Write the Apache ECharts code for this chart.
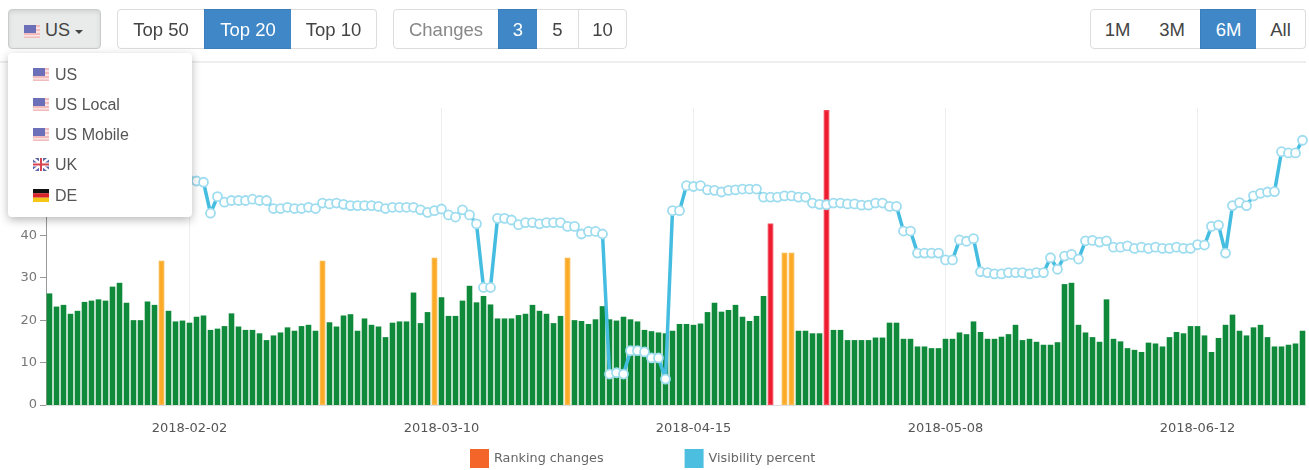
<!DOCTYPE html>
<html>
<head>
<meta charset="utf-8">
<script src="https://cdn.jsdelivr.net/npm/echarts@6/dist/echarts.min.js"></script>
<style>
html,body{margin:0;padding:0;background:#fff;width:1309px;height:470px;overflow:hidden;font-family:"Liberation Sans",Arial,sans-serif}
#page{position:absolute;left:0;top:0;width:1309px;height:470px;filter:blur(0.55px)}
#chart{position:absolute;left:0;top:0;width:1309px;height:470px}
.btn{position:absolute;top:9px;height:40px;line-height:40px;text-align:center;font-size:18.5px;color:#444;background:#fff;border:1px solid #ddd;box-sizing:border-box}
.on{background:#3f87c6;color:#fff;border-color:#3a7fbb}
.rl{border-radius:4px 0 0 4px}.rr{border-radius:0 4px 4px 0}
.lab{color:#888}
#us{left:8px;width:93px;background:#e9ebea;border:1px solid #c9cccb;border-radius:4px;box-shadow:inset 0 2px 4px rgba(0,0,0,.1);text-align:left;padding-left:15px;font-size:18px;color:#444}
#us svg{vertical-align:-2px;margin-right:5px}
.caret{display:inline-block;width:0;height:0;border-left:4px solid transparent;border-right:4px solid transparent;border-top:4px solid #444;margin-left:5px;vertical-align:2px}
#hr{position:absolute;left:0;top:61px;width:1306px;height:2px;background:#eee}
#menu{position:absolute;left:8px;top:53px;width:184px;height:164px;background:#fff;border-radius:4px;box-shadow:0 3px 10px rgba(0,0,0,.28)}
.it{position:absolute;left:47px;font-size:16px;line-height:20px;color:#555}
.fl{position:absolute;left:25px}
</style>
</head>
<body>
<div id="page">
<div id="chart"></div>
<svg width="0" height="0" style="position:absolute">
<symbol id="us-flag" viewBox="0 0 16 13"><rect width="16" height="13" fill="#f3bcbc"/><rect y="2" width="16" height="2" fill="#fbe3e3"/><rect y="6" width="16" height="2" fill="#fbe3e3"/><rect y="10" width="16" height="1.5" fill="#fbe3e3"/><rect width="12" height="8" fill="#6c70b8"/></symbol>
<symbol id="uk-flag" viewBox="0 0 16 13"><rect width="16" height="13" fill="#5c66a8"/><path d="M0 0L16 13M16 0L0 13" stroke="#fff" stroke-width="2.4"/><path d="M8 0V13M0 6.5H16" stroke="#fff" stroke-width="4"/><path d="M8 0V13M0 6.5H16" stroke="#d8434f" stroke-width="2"/></symbol>
<symbol id="de-flag" viewBox="0 0 16 13"><rect width="16" height="4.4" fill="#111"/><rect y="4.3" width="16" height="4.4" fill="#d8232a"/><rect y="8.7" width="16" height="4.3" fill="#f5c518"/></symbol>
</svg>

<div class="btn" id="us"><svg width="16" height="13"><use href="#us-flag"/></svg>US<span class="caret"></span></div>

<div class="btn rl" style="left:117px;width:88px">Top 50</div>
<div class="btn on" style="left:204px;width:88px">Top 20</div>
<div class="btn rr" style="left:291px;width:86px;border-left:none">Top 10</div>

<div class="btn rl lab" style="left:393px;width:106px">Changes</div>
<div class="btn on" style="left:498px;width:40px">3</div>
<div class="btn" style="left:537px;width:42px;border-left:none">5</div>
<div class="btn rr" style="left:578px;width:49px">10</div>

<div class="btn rl" style="left:1090px;width:55px">1M</div>
<div class="btn" style="left:1144px;width:57px;border-left:none">3M</div>
<div class="btn on" style="left:1200px;width:57px">6M</div>
<div class="btn rr" style="left:1256px;width:50px;border-left:none">All</div>

<div id="hr"></div>

<div id="menu">
  <svg class="fl" style="top:15px" width="16" height="13"><use href="#us-flag"/></svg><div class="it" style="top:12px">US</div>
  <svg class="fl" style="top:45px" width="16" height="13"><use href="#us-flag"/></svg><div class="it" style="top:42px">US Local</div>
  <svg class="fl" style="top:75px" width="16" height="13"><use href="#us-flag"/></svg><div class="it" style="top:72px">US Mobile</div>
  <svg class="fl" style="top:105px" width="16" height="13"><use href="#uk-flag"/></svg><div class="it" style="top:102px">UK</div>
  <svg class="fl" style="top:136px" width="16" height="13"><use href="#de-flag"/></svg><div class="it" style="top:133px">DE</div>
</div>
</div>

<script>
const rankingChanges = [
26.3,23.2,23.6,21.5,22.2,24.3,24.6,24.9,24.6,27.9,
28.8,24.1,20,20,24.4,23.6,34,22.2,19.7,19.9,
19.4,20.8,21.1,17.7,18,18.6,21.6,18.5,17.7,17.7,
16.9,15.3,16.4,17.1,18.3,17.5,18.6,18.9,17.5,34,
19.5,18.5,21.1,21.4,17.5,20.4,18.9,18.5,16,19.4,
19.7,19.7,26.5,19.3,21.9,34.7,25.4,21,21,24.6,
28.1,24.2,25.7,23.7,20.4,20.4,20.4,21.2,21.5,23.6,
22.2,21.5,19.3,21,34.7,20,19.8,19.1,20.2,23.3,
20.2,19.9,20.8,20.2,19.7,17.7,17.4,17.1,16.9,17.5,
19.1,19.1,18.9,19.2,21.9,24.1,22,22.4,23.6,20.8,
19.8,21,25.7,42.8,null,35.9,35.9,17.5,17.5,16.9,
16.9,69.5,17.7,17.7,15.3,15.3,15.3,15.3,15.9,15.9,
19.4,19.4,15.6,15.6,13.8,13.8,13.4,13.4,15.6,15.6,
17.1,16.7,19.7,17.2,15.6,15.6,16.1,16.7,18.9,15.3,
15.6,14.9,14.2,14.2,14.8,28.5,28.8,18.9,17.1,16,
14.9,24.9,15.6,15,13.4,13,12.5,14.7,14.5,13.8,
16,17.2,16.9,18.6,18.6,16.4,12.5,15.8,18.9,21.3,
17.5,16.4,18.3,18.9,16,13.8,13.8,14.2,14.5,17.5];

const visibilityPercent = [
50.5,51,51,51.5,51,52,52,52.5,52,52.5,
53,52.5,52.5,53,52.5,52.5,53,53,52.5,52.5,
53,52.8,52.5,45.2,49.1,47.8,48.2,48.2,48.2,48.5,
48.2,48.2,46.3,46.3,46.6,46.3,46.3,46.6,46.3,47.6,
47.4,47.6,47.3,47,47,47,47,46.8,46.3,46.6,
46.6,46.6,46.6,46,45.4,45.8,46.2,44.8,44.3,46,
44.8,42.7,27.7,27.7,44,44,43.6,42.5,43,43,
42.7,43,43,43,42.1,42.1,40.3,40.9,40.9,40.3,
7.3,7.6,7.3,12.8,12.8,12.5,11.1,11.1,6.1,45.8,
45.8,51.7,51.5,51.7,50.7,50.6,50.2,50.6,50.7,50.9,
50.9,50.9,49,49,49,49.3,49.3,49,49,47.6,
47.3,47.2,47.6,47.6,47.4,47.4,47.1,47.1,47.6,47.6,
46.8,46.8,41,41,35.8,35.8,35.8,35.8,34.2,34.2,
38.9,38.6,39.2,31.4,31.2,30.9,30.9,31.2,31.2,31.2,
30.9,31.2,31.2,34.7,32,35.1,35.5,34.4,38.7,38.8,
38.4,38.7,37.2,37.2,37.5,36.9,37.2,36.9,37.2,36.9,
36.9,37.2,36.9,36.9,37.8,37.7,42.1,42.4,35.8,47,
47.7,47,49.3,49.9,50.2,50.3,59.7,59.4,59.4,62.4];

const tickLabels = {20:'2018-02-02',56:'2018-03-10',92:'2018-04-15',128:'2018-05-08',164:'2018-06-12'};
const categories = rankingChanges.map((_, i) => tickLabels[i] || '');
const orangeBars = [16,39,55,74,105,106];
const redBars = [103,111];

const GREEN = {color:'#0f8a3b', borderWidth:0};
const ORANGE = {color:'#fba922', borderColor:'#fbb84a', borderWidth:1.5};
const RED = {color:'#ee1c30', borderColor:'#f24a58', borderWidth:1.2};
const isTick = i => tickLabels[i] !== undefined;

const chart = echarts.init(document.getElementById('chart'));
chart.setOption({
  animation:false,
  textStyle:{fontFamily:'"DejaVu Sans"'},
  grid:{left:46,right:3,top:108,bottom:65},
  legend:{
    left:470, top:449, padding:0, itemWidth:19, itemHeight:19, itemGap:81,
    textStyle:{fontSize:12.8,color:'#666',fontFamily:'"DejaVu Sans"',padding:[3,0,0,0]},
    selectedMode:false,
    data:[
      {name:'Ranking changes',icon:'rect',itemStyle:{color:'#f4652a',borderWidth:0}},
      {name:'Visibility percent',icon:'rect',itemStyle:{color:'#4cbfe0',borderWidth:0}}
    ]
  },
  xAxis:{
    type:'category', data:categories, boundaryGap:true,
    axisLine:{lineStyle:{color:'#ddd'}},
    axisTick:{alignWithLabel:true,interval:isTick,length:6,lineStyle:{color:'#e4e4e4'}},
    axisLabel:{interval:isTick,fontSize:13,color:'#555',margin:17,fontFamily:'"DejaVu Sans"'},
    splitLine:{show:true,alignWithLabel:true,interval:isTick,lineStyle:{color:'#eeeeee'}}
  },
  yAxis:{
    type:'value', min:0, max:70, interval:10,
    axisLine:{show:true,lineStyle:{color:'#999'}},
    axisTick:{show:true,length:6,lineStyle:{color:'#999'}},
    axisLabel:{fontSize:13,color:'#777',margin:9,padding:[2,0,0,0],fontFamily:'"DejaVu Sans"'},
    splitLine:{show:false}
  },
  series:[
    {
      name:'Ranking changes', type:'bar', barWidth:5.6, z:2,
      itemStyle:{color:'#f4652a'},
      data:rankingChanges.map((v,i)=>({
        value:v,
        itemStyle:redBars.includes(i)?RED:orangeBars.includes(i)?ORANGE:GREEN
      }))
    },
    {
      name:'Visibility percent', type:'line', z:3,
      data:visibilityPercent,
      showAllSymbol:true, symbol:'circle', symbolSize:9,
      lineStyle:{color:'#45bde0',width:3.5},
      itemStyle:{color:'#fff',borderColor:'#9edcef',borderWidth:1.8}
    }
  ]
});
</script>
</body>
</html>
